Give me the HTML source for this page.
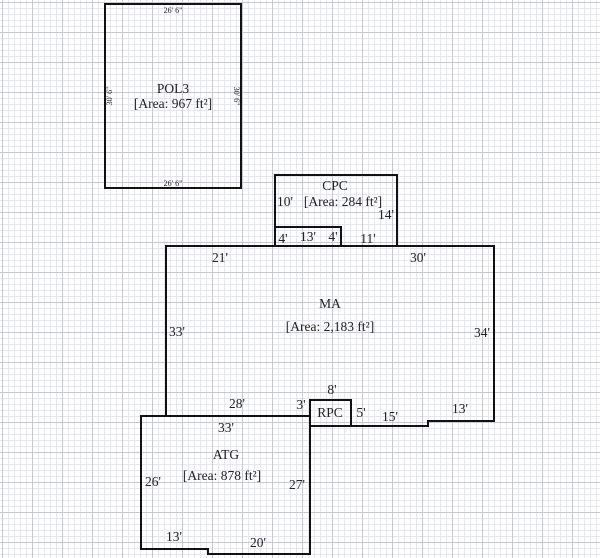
<!DOCTYPE html>
<html><head><style>
body{margin:0;width:600px;height:558px;overflow:hidden;background:#fff;
background-image:
linear-gradient(to right,#c8c8d4 1px,transparent 1px),
linear-gradient(to bottom,#c8c8d4 1px,transparent 1px),
linear-gradient(to right,#e6e6f0 1px,transparent 1px),
linear-gradient(to bottom,#e6e6f0 1px,transparent 1px);
background-size:30px 30px,30px 30px,6px 6px,6px 6px;
background-position:2px 2px,2px 2px,2px 2px,2px 2px;}
svg{position:absolute;left:0;top:0}
text{font-family:"Liberation Serif",serif;fill:#222}
</style></head><body>
<svg width="600" height="558" viewBox="0 0 600 558">
<g fill="none" stroke="#111" stroke-width="2">
<rect x="105" y="4" width="136" height="184"/>
<path d="M275 246 V175 H397 V246"/>
<path d="M275 227 H341 V246"/>
<path d="M166 416 V246 H494 V421 H428 V426 H351"/>
<rect x="310" y="400" width="41" height="26"/>
<path d="M141 416 H310 V554 H208 V549 H141 Z"/>
</g>
<g font-size="13.5" text-anchor="middle">
<text x="173" y="13" font-size="8">26' 6"</text>
<text x="173" y="186" font-size="8">26' 6"</text>
<text x="112" y="96" font-size="8" transform="rotate(-90 112 96)">30' 6"</text>
<text x="234" y="96" font-size="8" transform="rotate(90 234 96)">30' 6"</text>
<text x="173" y="93">POL3</text>
<text x="173" y="108">[Area: 967 ft²]</text>
<text x="335" y="190">CPC</text>
<text x="285" y="206">10'</text>
<text x="343" y="206">[Area: 284 ft²]</text>
<text x="386" y="219">14'</text>
<text x="283" y="243">4'</text>
<text x="308" y="241">13'</text>
<text x="333" y="241">4'</text>
<text x="368" y="243">11'</text>
<text x="220" y="262">21'</text>
<text x="418" y="262">30'</text>
<text x="330" y="308">MA</text>
<text x="330" y="331">[Area: 2,183 ft²]</text>
<text x="177" y="336">33'</text>
<text x="482" y="337">34'</text>
<text x="332" y="394">8'</text>
<text x="237" y="408">28'</text>
<text x="301" y="409">3'</text>
<text x="330" y="417">RPC</text>
<text x="361" y="417">5'</text>
<text x="390" y="421">15'</text>
<text x="460" y="413">13'</text>
<text x="226" y="432">33'</text>
<text x="226" y="459">ATG</text>
<text x="222" y="480">[Area: 878 ft²]</text>
<text x="153" y="486">26'</text>
<text x="297" y="489">27'</text>
<text x="174" y="541">13'</text>
<text x="258" y="547">20'</text>
</g>
</svg>
</body></html>
